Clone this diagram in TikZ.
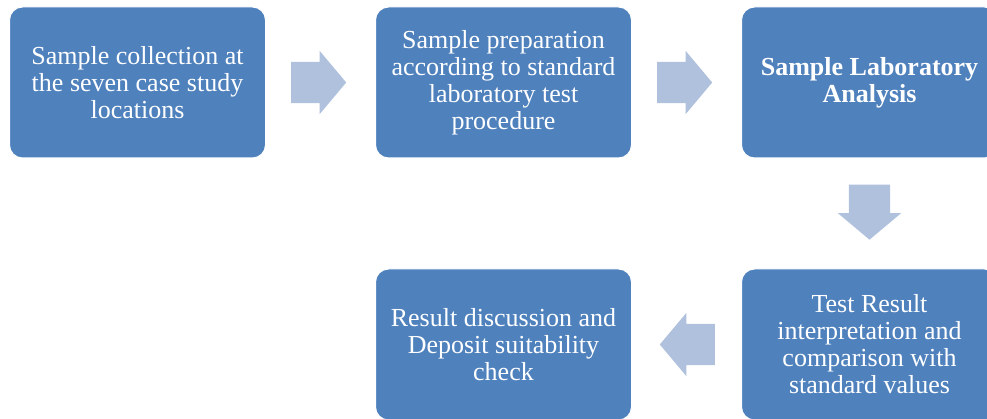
\documentclass[tikz,border=0pt]{standalone}
\usepackage{fontspec}
\setmainfont{Liberation Serif}
\usetikzlibrary{shapes.arrows, positioning}
\definecolor{boxblue}{RGB}{79,129,189}
\definecolor{arrowblue}{RGB}{176,193,222}
\tikzset{
    stepbox/.style={
        rectangle, rounded corners=13pt, draw=white, line width=1pt,
        minimum width=256pt, minimum height=151pt,
        fill=boxblue, text=white, align=center,
        font=\fontsize{26}{27}\selectfont
    },
    flowarrow/.style={
        single arrow, draw=none, fill=arrowblue,
        minimum height=55pt, inner xsep=0pt, inner ysep=20.5pt,
        single arrow head extend=11pt, single arrow tip angle=100
    }
}
\begin{document}
\begin{tikzpicture}[x=1pt, y=-1pt]
\useasboundingbox (0,0) rectangle (987,419);

% Top row
\node[stepbox] (collect) at (137.5,82.5) {Sample collection at\\the seven case study\\locations};
\node[stepbox, right=109pt of collect] (prep) {Sample preparation\\according to standard\\laboratory test\\procedure};
\node[stepbox, right=109pt of prep, font=\fontsize{26}{27}\selectfont\bfseries] (lab) {Sample Laboratory\\Analysis};

% Bottom row
\node[stepbox, below=110pt of lab] (interp) {Test Result\\interpretation and\\comparison with\\standard values};
\node[stepbox, left=109pt of interp] (discuss) {Result discussion and\\Deposit suitability\\check};

% Block arrows between steps
\node[flowarrow, right=25pt of collect, anchor=tail] (a1) {};
\node[flowarrow, right=25pt of prep, anchor=tail] (a2) {};
\node[flowarrow, rotate=-90, below=26pt of lab, anchor=tail] (a3) {};
\node[flowarrow, rotate=180, left=26pt of interp, anchor=tail] (a4) {};

\end{tikzpicture}
\end{document}
